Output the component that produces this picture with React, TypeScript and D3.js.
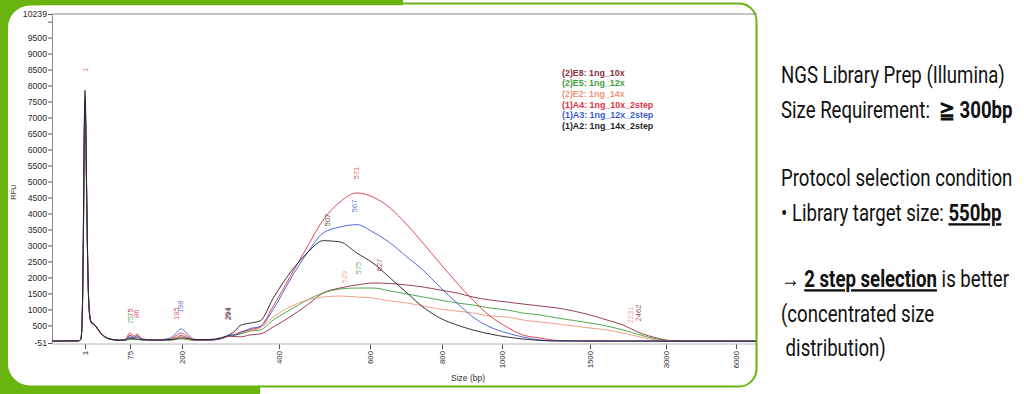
import React, { useRef, useEffect } from "react";
import * as d3 from "d3";

const W = 1024;
const H = 394;
const GREEN = "#69b40f";

// fragment size (bp) sampled along the trace
const sizes = [-53, -10, -6, -4, -2, 0, 1, 2, 4, 6, 8, 11, 14, 19, 26, 42, 58, 67, 75, 85, 92, 104, 135, 171, 186, 198, 208, 227, 258, 282, 297, 311, 320, 340, 361, 388, 424, 462, 497, 534, 571, 608, 656, 703, 747, 794, 850, 903, 960, 1028, 1119, 1216, 1313, 1500, 1835, 2151, 2487, 2822, 3300, 4459, 6860];

// RFU per sample
const e8 = [10, 15, 60, 500, 2600, 6600, 7350, 6900, 4200, 1950, 950, 580, 540, 460, 270, 70, 35, 55,
  190, 120, 180, 60, 35, 50, 120, 180, 130, 30, 40, 90, 160, 150, 140, 200,
  231, 449, 762, 1138, 1513, 1669, 1763, 1826, 1810, 1763, 1701, 1607, 1513, 1388, 1294, 1231, 1169, 1106, 1044, 825, 668, 512, 262, 105, 15, 8, 5];
const e5 = [10, 15, 50, 400, 2300, 5800, 6500, 6300, 4000, 1900, 950, 600, 560, 470, 280, 70, 35, 40,
  70, 60, 60, 40, 30, 35, 60, 80, 60, 30, 40, 100, 180, 200, 230, 320,
  356, 668, 981, 1294, 1513, 1638, 1669, 1669, 1576, 1482, 1388, 1294, 1200, 1138, 1044, 981, 887, 825, 731, 575, 480, 356, 199, 74, 15, 8, 5];
const e2 = [10, 15, 60, 450, 2500, 6300, 7000, 6700, 4100, 1900, 950, 590, 550, 460, 280, 75, 40, 50,
  120, 100, 120, 60, 35, 50, 110, 150, 110, 40, 40, 100, 180, 230, 280, 330,
  420, 762, 1075, 1294, 1388, 1419, 1388, 1357, 1263, 1200, 1106, 1012, 950, 887, 794, 762, 668, 606, 543, 418, 356, 262, 137, 43, 10, 5, 5];
const a4 = [10, 15, 70, 520, 2700, 6700, 7480, 7000, 4300, 2000, 1000, 600, 540, 450, 270, 70, 35, 60,
  260, 160, 230, 80, 40, 70, 180, 260, 190, 40, 40, 100, 170, 230, 290, 360,
  460, 1100, 2013, 2952, 3796, 4359, 4641, 4516, 4172, 3640, 3077, 2451, 1826, 1294, 794, 449, 199, 105, 30, 15, 15, 12, 10, 10, 8, 6, 5];
const a3 = [10, 15, 60, 480, 2800, 6850, 7600, 7100, 4200, 1900, 980, 620, 570, 480, 290, 75, 40, 45,
  140, 120, 140, 70, 40, 100, 250, 390, 280, 60, 40, 90, 180, 200, 260, 400,
  460, 1000, 1920, 2764, 3390, 3577, 3650, 3421, 3077, 2639, 2232, 1701, 1200, 762, 449, 262, 137, 43, 15, 10, 10, 10, 10, 10, 8, 6, 5];
const a2 = [10, 15, 60, 500, 2900, 7050, 7850, 7300, 4300, 1950, 950, 600, 560, 470, 280, 70, 35, 40,
  90, 80, 75, 50, 40, 50, 80, 110, 100, 50, 60, 120, 200, 350, 500, 570,
  640, 1350, 2139, 2764, 3150, 3110, 2764, 2451, 1982, 1513, 1075, 731, 512, 356, 231, 137, 74, 30, 12, 10, 10, 10, 10, 10, 8, 6, 5];

const seriesNames = ["(2)E8: 1ng_10x", "(2)E5: 1ng_12x", "(2)E2: 1ng_14x", "(1)A4: 1ng_10x_2step", "(1)A3: 1ng_12x_2step", "(1)A2: 1ng_14x_2step"];
const seriesColors = ["#8e2c3e", "#3f9f3f", "#f2957a", "#e2323f", "#3b5bd6", "#1e1e1e"];
const seriesValues = [e8, e5, e2, a4, a3, a2];

const xTicks = [1, 75, 200, 400, 600, 800, 1000, 1500, 3000, 6000];
const yTicks = [-51, 500, 1000, 1500, 2000, 2500, 3000, 3500, 4000, 4500, 5000, 5500, 6000, 6500, 7000, 7500, 8000, 8500, 9000, 9500, 10000, 10239];
const yUnlabeled = [10000];

// peak call labels: series index, text, size (bp), RFU
const peakLabels: [number, string, number, number][] = [
  [3, "1", 1, 8490],
  [0, "75", 75, 900],
  [1, "75", 77, 670],
  [3, "86", 90, 860],
  [3, "195", 186, 870],
  [4, "198", 196, 1080],
  [0, "294", 293, 860],
  [5, "294", 295, 860],
  [5, "507", 507, 3796],
  [4, "567", 567, 4235],
  [3, "571", 571, 5266],
  [2, "529", 544, 2013],
  [1, "575", 575, 2295],
  [0, "627", 627, 2389],
  [2, "2231", 2300, 825],
  [0, "2462", 2462, 887],
];

// side notes: [text, bold, underline]
const noteLines: [string, boolean, boolean][][] = [
  [["NGS Library Prep (Illumina)", false, false]],
  [["Size Requirement:  ", false, false], ["≧ 300bp", true, false]],
  [["Protocol selection condition", false, false]],
  [["• Library target size: ", false, false], ["550bp", true, true]],
  [["→ ", false, false], ["2 step selection", true, true], [" is better", false, false]],
  [["(concentrated size", false, false]],
  [[" distribution)", false, false]],
];
const noteBaselines = [83, 118, 186, 221, 287, 322, 356];

const Chart: React.FC = () => {
  const ref = useRef<SVGSVGElement | null>(null);

  useEffect(() => {
    const svg = d3.select(ref.current);
    svg.selectAll("*").remove();

    // ---------- green frame ----------
    const frame = svg.append("g");
    [[0, 0, 403, 5.5], [0, 0, 8, 394], [0, 0, 40, 40], [0, 354, 40, 40], [0, 385, 260, 9]].forEach(([x, y, w, h]) => {
      frame.append("rect").attr("x", x).attr("y", y).attr("width", w).attr("height", h).attr("fill", GREEN);
    });
    frame.append("rect").attr("x", 8).attr("y", 5.5).attr("width", 748).attr("height", 380)
      .attr("rx", 22).attr("fill", "#fff");
    frame.append("path")
      .attr("d", "M400,3.5 L739,3.5 A17.5,17.5 0 0 1 756.5,21 L756.5,369 A17.5,17.5 0 0 1 739,386.5 L258,386.5")
      .attr("fill", "none").attr("stroke", GREEN).attr("stroke-width", 2);

    // ---------- plot ----------
    const left = 52, right = 756, top = 14, bottom = 343;
    const x = d3.scaleLinear().domain(xTicks).range([85, 130, 182, 279, 370, 442, 502, 590, 666, 736]);
    const y = d3.scaleLinear().domain([-51, 10239]).range([bottom, top]);

    svg.append("defs").append("clipPath").attr("id", "plotClip")
      .append("rect").attr("x", left).attr("y", top).attr("width", right - left).attr("height", bottom - top);

    const font = "'Liberation Sans', Arial, sans-serif";

    // y axis
    const yAxis = svg.append("g").attr("transform", `translate(${left},0)`)
      .call(d3.axisLeft(y).tickValues(yTicks).tickSize(4).tickSizeOuter(0)
        .tickFormat((d) => (yUnlabeled.includes(+d) ? "" : String(d))));
    yAxis.select(".domain").attr("stroke", "#8a8a8a");
    yAxis.selectAll(".tick line").attr("stroke", "#555");
    yAxis.selectAll("text").attr("font-family", font).attr("font-size", 8.7).attr("fill", "#2a2a2a").attr("x", -5);

    svg.append("line").attr("x1", left).attr("x2", right + 1).attr("y1", top).attr("y2", top)
      .attr("stroke", "#8a8a8a").attr("stroke-width", 1.2);

    // x axis
    const xAxis = svg.append("g").attr("transform", `translate(0,${bottom + 1})`)
      .call(d3.axisBottom(x).tickValues(xTicks).tickSize(5).tickFormat((d) => String(d)));
    xAxis.select(".domain").remove();
    xAxis.append("line").attr("x1", left).attr("x2", right).attr("stroke", "#b5b5b5");
    xAxis.selectAll(".tick line").attr("stroke", "#555");
    xAxis.selectAll("text")
      .attr("font-family", font).attr("font-size", 7.8).attr("fill", "#2a2a2a")
      .attr("transform", "rotate(-90)").attr("x", -7).attr("y", 0).attr("dy", "0.32em")
      .attr("text-anchor", "end");

    svg.append("text").attr("x", 468).attr("y", 381).attr("text-anchor", "middle")
      .attr("font-family", font).attr("font-size", 8.5).attr("fill", "#333").text("Size (bp)");
    svg.append("text").attr("transform", "translate(16,192) rotate(-90)").attr("text-anchor", "middle")
      .attr("font-family", font).attr("font-size", 7.5).attr("fill", "#333").text("RFU");

    // traces
    const line = d3.line<number>()
      .x((_, i) => x(sizes[i]))
      .y((d) => y(d))
      .curve(d3.curveMonotoneX);
    const traces = svg.append("g").attr("clip-path", "url(#plotClip)");
    seriesValues.forEach((vals, i) => {
      traces.append("path").attr("d", line(vals)!).attr("fill", "none")
        .attr("stroke", seriesColors[i]).attr("stroke-width", 1).attr("stroke-opacity", 0.9);
    });

    // peak labels
    peakLabels.forEach(([s, t, bp, rfu]) => {
      svg.append("text")
        .attr("transform", `translate(${x(bp)},${y(rfu)}) rotate(-90)`)
        .attr("text-anchor", "middle").attr("dominant-baseline", "central")
        .attr("font-family", font).attr("font-size", 7.5).attr("fill", seriesColors[s]).attr("fill-opacity", 0.85)
        .text(t);
    });

    // legend
    seriesNames.forEach((n, i) => {
      svg.append("text").attr("x", 562).attr("y", 75.8 + i * 10.6)
        .attr("font-family", font).attr("font-size", 8.9).attr("font-weight", "bold")
        .attr("fill", seriesColors[i]).text(n);
    });

    // ---------- side notes ----------
    const notes = svg.append("g");
    const noteGroups = noteLines.map((parts, i) => {
      const g = notes.append("g").attr("transform", `translate(781,${noteBaselines[i]})`);
      const t = g.append("text").attr("font-family", "Roboto, 'Noto Sans', sans-serif").attr("font-size", 23.5)
        .attr("fill", "#111").style("white-space", "pre");
      parts.forEach(([txt, b, u]) => {
        const ts = t.append("tspan").text(txt);
        if (b) ts.attr("font-weight", "bold");
        if (u) ts.style("text-decoration", "underline");
      });
      return { g, t };
    });
    const natural = (noteGroups[0].t.node() as SVGTextElement).getComputedTextLength();
    const k = natural > 0 ? 224 / natural : 0.72;
    noteGroups.forEach(({ g }, i) => g.attr("transform", `translate(781,${noteBaselines[i]}) scale(${k},1)`));
  }, []);

  return <svg ref={ref} width={W} height={H} style={{ display: "block" }} />;
};

export default function App() {
  return (
    <div style={{ position: "absolute", left: 0, top: 0, background: "#fff" }}>
      <Chart />
    </div>
  );
}
